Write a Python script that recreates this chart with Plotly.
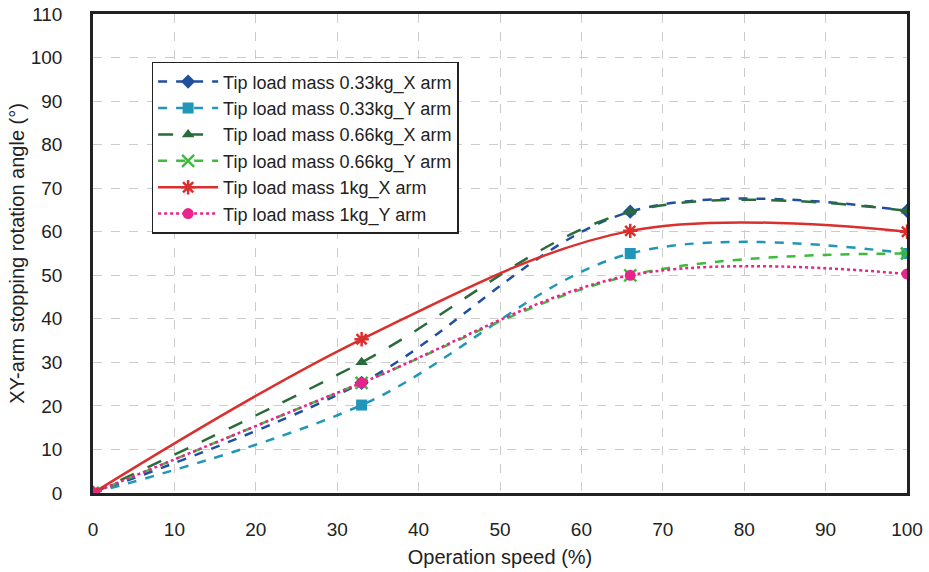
import plotly.graph_objects as go

speed = [0, 33, 66, 100]
names = [
    "Tip load mass 0.33kg_X arm",
    "Tip load mass 0.33kg_Y arm",
    "Tip load mass 0.66kg_X arm",
    "Tip load mass 0.66kg_Y arm",
    "Tip load mass 1kg_X arm",
    "Tip load mass 1kg_Y arm",
]
m033_x = [0, 25.3, 64.6, 64.8]
m033_y = [0, 20.2, 55.0, 55.0]
m066_x = [0, 30.0, 64.6, 64.8]
m066_y = [0, 25.3, 50.0, 55.0]
m1_x = [0, 35.3, 60.2, 60.0]
m1_y = [0, 25.3, 50.0, 50.3]
series = [m033_x, m033_y, m066_x, m066_y, m1_x, m1_y]

colors = ["#1f4fa0", "#2196b8", "#2a6b3a", "#3dbb3d", "#d9302f", "#e8248c"]
dashes = ["dash", "dash", "longdash", "dash", "solid", "dot"]
symbols = ["diamond", "square", "triangle-up", "x-thin-open", "asterisk-open", "circle"]
sizes = [11, 11, 11, 12, 12, 11]

fig = go.Figure()
for i, (n, ys) in enumerate(zip(names, series)):
    fig.add_trace(go.Scatter(
        x=speed, y=ys, name=n, mode="lines+markers", legendgroup=str(i),
        line=dict(color=colors[i], dash=dashes[i], width=2.5, shape="spline", smoothing=1.0),
        marker=dict(symbol=symbols[i], size=sizes[i], color=colors[i],
                    line=dict(color=colors[i], width=2.5 if i in (3, 4) else 0)),
    ))

axis_common = dict(
    showgrid=True, gridcolor="#cccccc", griddash="dash", gridwidth=1,
    showline=True, linecolor="#222222", linewidth=2.5, mirror=True,
    zeroline=False, ticks="", tickfont=dict(size=19, color="#222222"),
    title_font=dict(size=20, color="#222222"), automargin=False,
)
fig.update_xaxes(range=[0, 100], dtick=10, title_text="Operation speed (%)",
                 ticklabelstandoff=17, title_standoff=12, **axis_common)
fig.update_yaxes(range=[0, 110], dtick=10, title_text="XY-arm stopping rotation angle (°)",
                 ticklabelstandoff=24, title_standoff=1, **axis_common)

fig.update_layout(
    width=929, height=572,
    margin=dict(l=93, r=22, t=14, b=79),
    paper_bgcolor="white", plot_bgcolor="white",
    font=dict(family="Liberation Sans, Arial, sans-serif", color="#222222"),
    legend=dict(x=0.072, y=0.9, xanchor="left", yanchor="top",
                bgcolor="white", bordercolor="#222222", borderwidth=1.5,
                font=dict(size=18, color="#222222"), tracegroupgap=0,
                itemwidth=60),
    showlegend=True,
)
# remove the browser's default 8px body margin so the figure fills the window exactly
fig.write_html("out.html", config={"displayModeBar": False},
               post_script="document.body.style.margin='0px';")
